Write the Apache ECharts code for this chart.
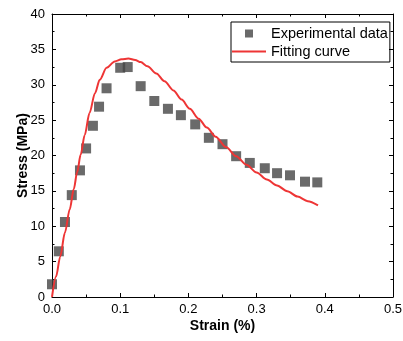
<!DOCTYPE html>
<html>
<head>
<meta charset="utf-8">
<script src="https://cdn.jsdelivr.net/npm/echarts@6/dist/echarts.min.js"></script>
<style>
html,body{margin:0;padding:0;background:#fff;}
#chart{width:403px;height:341px;}
</style>
</head>
<body>
<div id="chart"></div>
<script>
// Experimental data
var strain = [0, 0.010, 0.019, 0.029, 0.041, 0.050, 0.060, 0.069, 0.080, 0.100, 0.111, 0.130, 0.150, 0.170, 0.189, 0.210, 0.230, 0.250, 0.270, 0.290, 0.312, 0.330, 0.349, 0.371, 0.389];
var stress = [1.8, 6.46, 10.6, 14.4, 17.9, 21.0, 24.2, 26.9, 29.5, 32.4, 32.5, 29.8, 27.7, 26.6, 25.7, 24.4, 22.5, 21.6, 19.9, 18.95, 18.2, 17.5, 17.2, 16.3, 16.2];
// Fitting curve
var fitX = [0, 0.006, 0.012, 0.019, 0.026, 0.032, 0.037, 0.042, 0.048, 0.055, 0.063, 0.070, 0.080, 0.092, 0.102, 0.112, 0.122, 0.130, 0.140, 0.153, 0.165, 0.178, 0.190, 0.202, 0.215, 0.227, 0.240, 0.255, 0.270, 0.285, 0.300, 0.315, 0.330, 0.345, 0.360, 0.375, 0.390];
var fitY = [0, 2.9, 5.7, 9.1, 12.4, 15.3, 17.7, 20.1, 22.9, 26.0, 28.8, 30.7, 32.4, 33.3, 33.6, 33.7, 33.5, 33.2, 32.6, 31.6, 30.5, 29.2, 27.9, 26.6, 25.2, 23.95, 22.65, 21.2, 19.9, 18.7, 17.6, 16.6, 15.75, 14.95, 14.2, 13.55, 12.95];
var xTicks = [0, 0.1, 0.2, 0.3, 0.4, 0.5];
var yTicks = [0, 5, 10, 15, 20, 25, 30, 35, 40];

var expData = strain.map(function(x, i){ return [x, stress[i]]; });
var fitData = fitX.map(function(x, i){ return [x, fitY[i]]; });

var FONT = '"Liberation Sans", Arial, sans-serif';
var axisCommon = {
  axisLine: {show: true, onZero: false, lineStyle: {color: '#000', width: 1}},
  axisTick: {show: true, inside: true, length: 4, lineStyle: {color: '#000', width: 1}},
  minorTick: {show: true, splitNumber: 2, length: 2.5, lineStyle: {color: '#000', width: 1}},
  splitLine: {show: false}
};
function xAx(pos, showLabel) {
  return Object.assign({
    type: 'value', position: pos, min: xTicks[0], max: xTicks[xTicks.length-1], interval: 0.1,
    axisLabel: {show: showLabel, color: '#000', fontSize: 13, fontFamily: FONT, margin: 6,
      formatter: function(v){ return v.toFixed(1); }},
    name: showLabel ? 'Strain (%)' : '', nameLocation: 'middle', nameGap: 22, nameMoveOverlap: false,
    nameTextStyle: {fontWeight: 'bold', fontSize: 14, color: '#000', fontFamily: FONT}
  }, axisCommon);
}
function yAx(pos, showLabel) {
  return Object.assign({
    type: 'value', position: pos, min: yTicks[0], max: yTicks[yTicks.length-1], interval: 5,
    axisLabel: {show: showLabel, color: '#000', fontSize: 13, fontFamily: FONT, margin: 7},
    name: showLabel ? 'Stress (MPa)' : '', nameLocation: 'middle', nameGap: 22, nameMoveOverlap: false,
    nameTextStyle: {fontWeight: 'bold', fontSize: 14, color: '#000', fontFamily: FONT}
  }, axisCommon);
}

var chart = echarts.init(document.getElementById('chart'), null, {renderer: 'canvas'});
chart.setOption({
  animation: false,
  backgroundColor: '#fff',
  grid: {left: 52, right: 10, top: 14, bottom: 44, containLabel: false, outerBoundsMode: 'none'},
  xAxis: [xAx('bottom', true), xAx('top', false)],
  yAxis: [yAx('left', true), yAx('right', false)],
  legend: {
    left: 231, top: 22, orient: 'vertical',
    itemWidth: 34, itemHeight: 8, itemGap: 3,
    padding: [4, 2, 3, 1],
    borderColor: '#000', borderWidth: 1,
    symbolKeepAspect: true,
    textStyle: {fontSize: 14.5, color: '#000', fontFamily: FONT},
    data: [
      {name: 'Experimental data', icon: 'path://M0,0L10,0L10,10L0,10Z'},
      {name: 'Fitting curve', icon: 'path://M0,0L34,0L34,2L0,2Z'}
    ]
  },
  series: [
    {
      name: 'Experimental data', type: 'scatter', xAxisIndex: 0, yAxisIndex: 0,
      symbol: 'rect', symbolSize: 10,
      itemStyle: {color: '#454545'},
      data: expData, z: 2
    },
    {
      name: 'Fitting curve', type: 'line', xAxisIndex: 0, yAxisIndex: 0,
      showSymbol: false, symbol: 'none', smooth: 0.3, smoothMonotone: 'x',
      lineStyle: {color: '#ee3535', width: 2},
      itemStyle: {color: '#ee3535'},
      data: fitData, z: 3
    }
  ]
});
</script>
</body>
</html>
